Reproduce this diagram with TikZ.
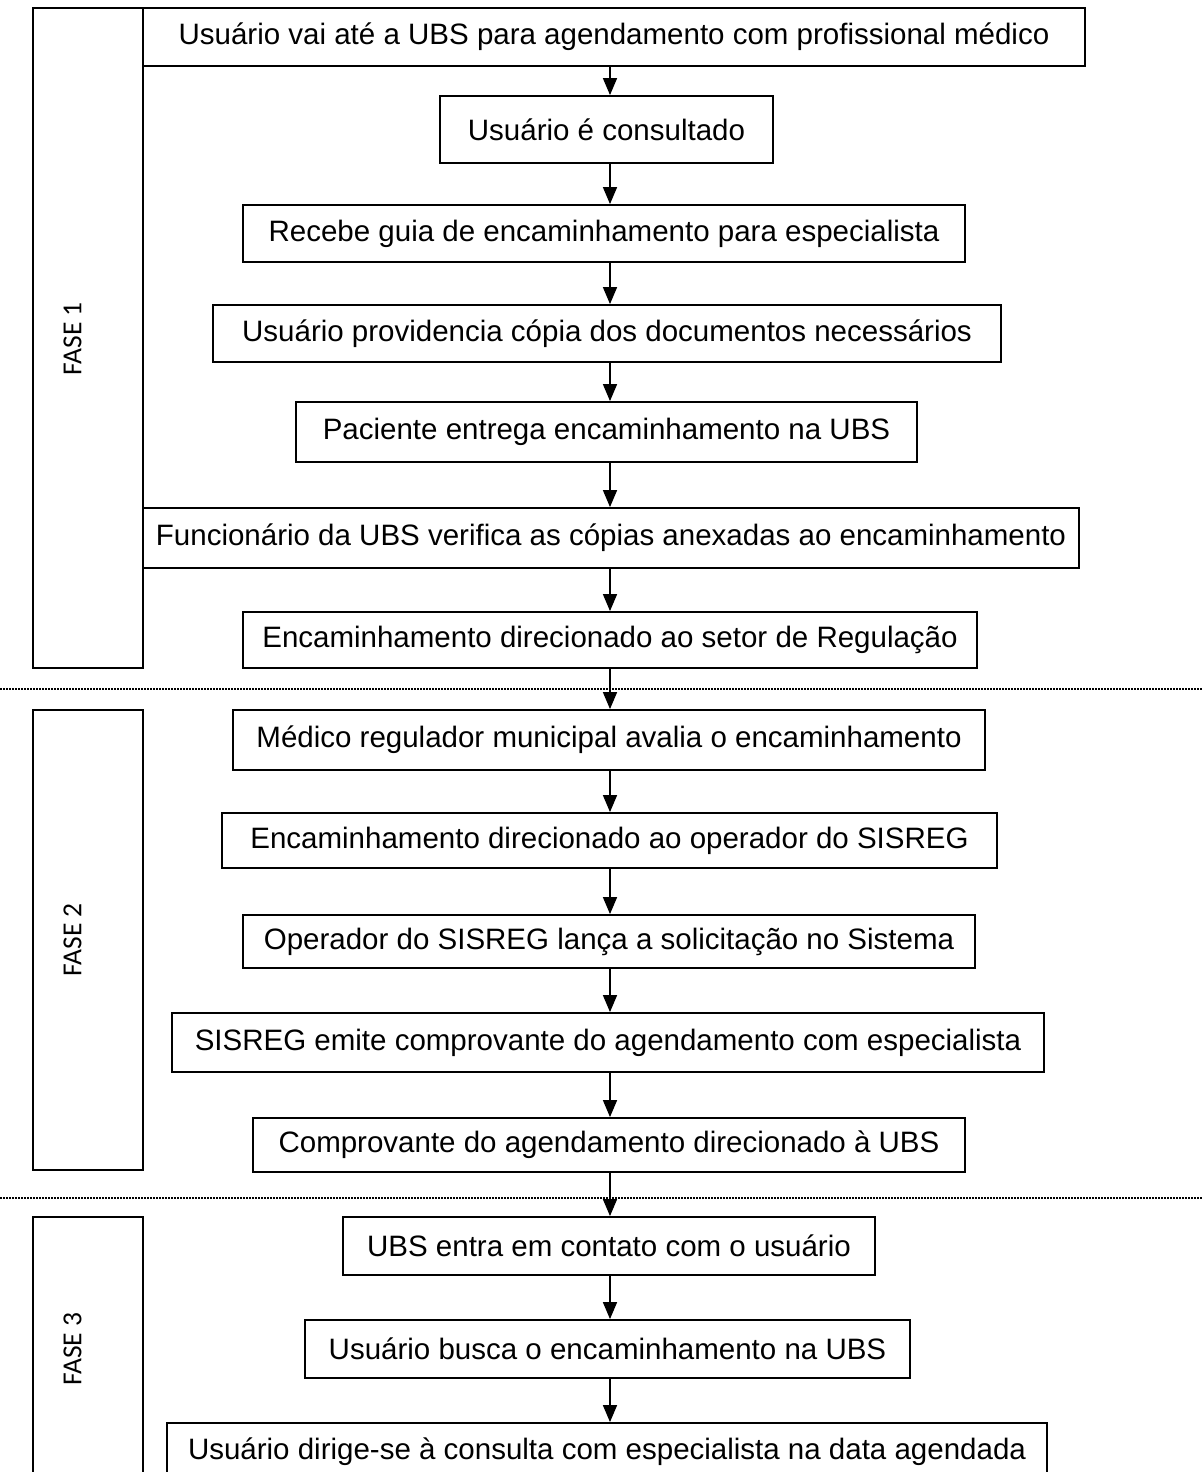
\documentclass[tikz,border=0pt]{standalone}
\usepackage{fontspec}
\setmainfont{Liberation Sans}
\newfontfamily\fasefont{Carlito}
\usetikzlibrary{arrows.meta}

\begin{document}
\begin{tikzpicture}[
        x=1pt,
        y=-1pt,
        line width=1.8pt,
        every node/.style={
            rectangle,
            draw,
            inner sep=0pt,
            font=\fontsize{29.5}{34}\selectfont
        },
        seta/.style={
            -{Triangle[width=14pt,length=17pt]},
            line width=1.5pt
        },
        fase/.style={
            draw=none,
            rotate=90,
            font=\fasefont\fontsize{27.5}{32}\selectfont
        },
        divisa/.style={
            line width=1.2pt,
            dash pattern=on 1.5pt off 1.5pt
        }
    ]
    \useasboundingbox (0,0) rectangle (1202,1472);
    \clip (0,0) rectangle (1202,1472);

    % fases
    \node[minimum width=110pt, minimum height=660pt] (f1) at (88,338) {};
    \node[minimum width=110pt, minimum height=460pt] (f2) at (88,940) {};
    \node[minimum width=110pt, minimum height=280pt] (f3) at (88,1357) {};
    \node[fase] (t1) at (72.5,339) {FASE 1};
    \node[fase] (t2) at (72.5,940) {FASE 2};
    \node[fase] (t3) at (72.5,1349) {FASE 3};

    \draw[divisa] (0,689) -- (1202,689);
    \draw[divisa] (0,1198) -- (1202,1198);

    % etapas
    \node[minimum width=942pt, minimum height=58pt] (1) at (614,37)
        {Usuário vai até a UBS para agendamento com profissional médico};
    \node[minimum width=333pt, minimum height=67pt] (2) at (606.5,129.5)
        {Usuário é consultado};
    \node[minimum width=722pt, minimum height=57pt] (3) at (604,233.5)
        {Recebe guia de encaminhamento para especialista};
    \node[minimum width=788pt, minimum height=57pt] (4) at (607,333.5)
        {Usuário providencia cópia dos documentos necessários};
    \node[minimum width=621pt, minimum height=60pt] (5) at (606.5,432)
        {Paciente entrega encaminhamento na UBS};
    \node[minimum width=936pt, minimum height=60pt] (6) at (611,538)
        {Funcionário da UBS verifica as cópias anexadas ao encaminhamento};
    \node[minimum width=734pt, minimum height=56pt] (7) at (610,640)
        {Encaminhamento direcionado ao setor de Regulação};
    \node[minimum width=752pt, minimum height=60pt] (8) at (609,740)
        {Médico regulador municipal avalia o encaminhamento};
    \node[minimum width=775pt, minimum height=55pt] (9) at (609.5,840.5)
        {Encaminhamento direcionado ao operador do SISREG};
    \node[minimum width=732pt, minimum height=53pt] (10) at (609,941.5)
        {Operador do SISREG lança a solicitação no Sistema};
    \node[minimum width=872pt, minimum height=59pt] (11) at (608,1042.5)
        {SISREG emite comprovante do agendamento com especialista};
    \node[minimum width=712pt, minimum height=54pt] (12) at (609,1145)
        {Comprovante do agendamento direcionado à UBS};
    \node[minimum width=532pt, minimum height=58pt] (13) at (609,1246)
        {UBS entra em contato com o usuário};
    \node[minimum width=605pt, minimum height=58pt] (14) at (607.5,1349)
        {Usuário busca o encaminhamento na UBS};
    \node[minimum width=880pt, minimum height=57pt] (15) at (607,1451.5)
        {Usuário dirige-se à consulta com especialista na data agendada};

    \coordinate (eixo) at (610,0);

    \foreach \a/\b in {1/2,2/3,3/4,4/5,5/6,6/7,7/8,8/9,9/10,10/11,11/12,12/13,13/14,14/15}
        \draw[seta] (\a.south -| eixo) -- (\b.north -| eixo);
\end{tikzpicture}
\end{document}
